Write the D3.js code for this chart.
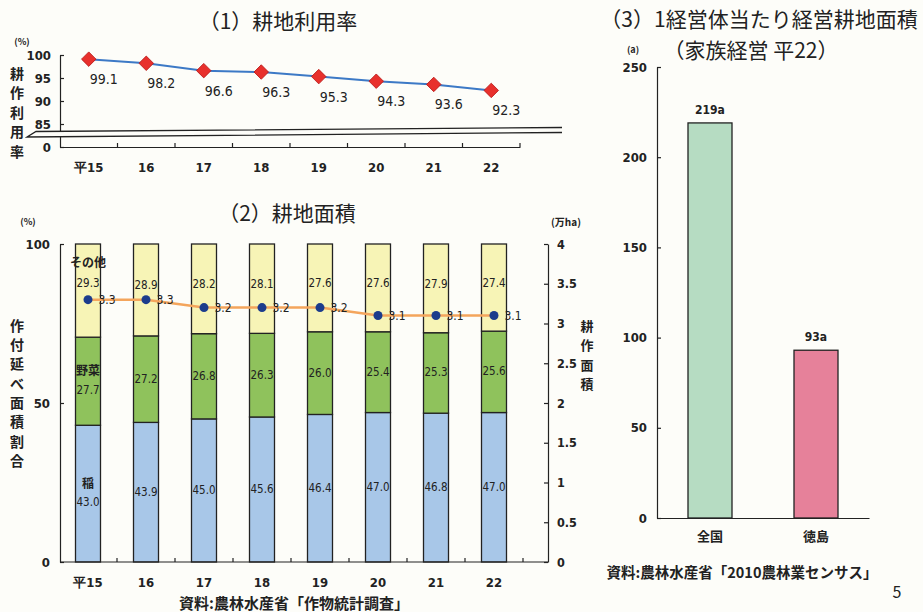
<!DOCTYPE html>
<html>
<head>
<meta charset="utf-8">
<script src="https://cdn.jsdelivr.net/npm/d3@7"></script>
<style>
body { margin: 0; background: #fdfdf9; }
svg { display: block; }
text { font-family: "Noto Sans CJK JP", sans-serif; fill: #222; }
.num, .tick text { font-family: "DejaVu Sans Condensed", "DejaVu Sans", sans-serif; }
</style>
</head>
<body>
<svg width="923" height="612"></svg>
<script>
// (1) 耕地利用率
let years = ['平15', '16', '17', '18', '19', '20', '21', '22'];
let utilRate = [99.1, 98.2, 96.6, 96.3, 95.3, 94.3, 93.6, 92.3];
let rateTicks = [0, 85, 90, 95, 100];

// (2) 耕地面積
let cropKeys = ['rice', 'veg', 'other'];
let cropNames = ['稲', '野菜', 'その他'];
let rice = [43.0, 43.9, 45.0, 45.6, 46.4, 47.0, 46.8, 47.0];
let veg = [27.7, 27.2, 26.8, 26.3, 26.0, 25.4, 25.3, 25.6];
let other = [29.3, 28.9, 28.2, 28.1, 27.6, 27.6, 27.9, 27.4];
let areaMan = [3.3, 3.3, 3.2, 3.2, 3.2, 3.1, 3.1, 3.1];
let shareTicks = [0, 50, 100];
let areaTicks = [0, 0.5, 1, 1.5, 2, 2.5, 3, 3.5, 4];

// (3) 1経営体当たり経営耕地面積
let regions = ['全国', '徳島'];
let farmArea = [219, 93];
let farmTicks = [0, 50, 100, 150, 200, 250];

let bg = '#fdfdf9';
let cropColors = { rice: '#a8c7e8', veg: '#8fc25c', other: '#f7f4b6' };
let regionColors = ['#b6dcc2', '#e6819a'];

let svg = d3.select('svg');

let vertText = (g, str, x, y0, step, size) => {
    str.split('').forEach((c, i) => {
        g.append('text')
         .attr('x', x)
         .attr('y', y0 + i * step)
         .attr('text-anchor', 'middle')
         .attr('dominant-baseline', 'middle')
         .style('font-size', size + 'px')
         .style('font-weight', 'bold')
         .text(c);
    });
};

let styleAxis = (g, size) => {
    g.selectAll('path, line').attr('stroke', '#222').attr('stroke-width', 1.2);
    g.selectAll('text').style('font-size', size + 'px').style('font-weight', 'bold').attr('fill', '#222');
};

// ---------- chart 1 ----------
let drawRate = () => {
    let g = svg.append('g');
    let x = d3.scaleBand().domain(years).range([60, 520]);
    let y = d3.scaleLinear().domain([0, 85, 100]).range([147, 124, 55]);
    let cx = d => x(d) + x.bandwidth() / 2;

    g.append('text')
     .attr('x', 278).attr('y', 29)
     .attr('text-anchor', 'middle')
     .style('font-size', '21px')
     .text('（1）耕地利用率');

    g.append('text').attr('x', 22).attr('y', 45).attr('text-anchor', 'middle')
     .style('font-size', '9px').style('font-weight', 'bold').text('(%)');
    vertText(g, '耕作利用率', 17, 75, 19.5, 14);

    let yAxis = g.append('g')
                 .attr('transform', 'translate(60,0)')
                 .call(d3.axisLeft(y).tickValues(rateTicks).tickSize(-4).tickSizeOuter(0).tickPadding(9));
    styleAxis(yAxis, 13);

    let xAxis = g.append('g')
                 .attr('transform', 'translate(0,147)')
                 .call(d3.axisBottom(x).tickSize(0).tickPadding(16));
    styleAxis(xAxis, 13);
    xAxis.selectAll('line.bound')
         .data(years)
         .enter()
         .append('line')
         .attr('class', 'bound')
         .attr('x1', d => x(d) + x.bandwidth()).attr('x2', d => x(d) + x.bandwidth())
         .attr('y1', 0).attr('y2', -4)
         .attr('stroke', '#222').attr('stroke-width', 1.2);

    // axis break
    g.append('path')
     .attr('d', 'M562,127.5 L36,131.5 L27,137 L562,132.5 Z')
     .attr('fill', bg);
    g.append('path')
     .attr('d', 'M562,127.5 L36,131.5 L27,137 L562,132.5')
     .attr('fill', 'none').attr('stroke', '#222').attr('stroke-width', 1.3);

    g.append('path')
     .datum(utilRate)
     .attr('fill', 'none')
     .attr('stroke', '#3c79c6')
     .attr('stroke-width', 2)
     .attr('d', d3.line().x((d, i) => cx(years[i])).y(d => y(d)));

    g.selectAll('.dia')
     .data(utilRate)
     .enter()
     .append('path')
     .attr('class', 'dia')
     .attr('d', d3.symbol().type(d3.symbolSquare).size(105))
     .attr('transform', (d, i) => `translate(${cx(years[i])},${y(d)}) rotate(45)`)
     .attr('fill', '#e8302c')
     .attr('stroke', '#b81818')
     .attr('stroke-width', 0.8);

    g.selectAll('.rlab')
     .data(utilRate)
     .enter()
     .append('text')
     .attr('class', 'num rlab')
     .attr('x', (d, i) => cx(years[i]) + 15)
     .attr('y', d => y(d) + 25)
     .attr('text-anchor', 'middle')
     .style('font-size', '14px')
     .text(d => d.toFixed(1));
};

// ---------- chart 2 ----------
let drawArea = () => {
    let g = svg.append('g');
    let x = d3.scaleBand().domain(years).range([59, 523]);
    let y = d3.scaleLinear().domain([0, 100]).range([562, 244]);
    let yR = d3.scaleLinear().domain([0, 4]).range([562, 244]);
    let cx = d => x(d) + x.bandwidth() / 2;
    let barW = 25;

    g.append('text')
     .attr('x', 287).attr('y', 221)
     .attr('text-anchor', 'middle')
     .style('font-size', '21px')
     .text('（2）耕地面積');

    g.append('text').attr('x', 28).attr('y', 225).attr('text-anchor', 'middle')
     .style('font-size', '9px').style('font-weight', 'bold').text('(%)');
    g.append('text').attr('x', 566).attr('y', 226).attr('text-anchor', 'middle')
     .style('font-size', '10px').style('font-weight', 'bold').text('(万ha)');
    vertText(g, '作付延べ面積割合', 17, 327, 19.3, 14);
    vertText(g, '耕作面積', 587, 327, 19.5, 13);

    let table = years.map((yr, i) => ({ year: yr, rice: rice[i], veg: veg[i], other: other[i] }));
    let series = d3.stack().keys(cropKeys)(table);

    let layer = g.selectAll('.layer')
                 .data(series)
                 .enter()
                 .append('g')
                 .attr('class', 'layer')
                 .attr('fill', s => cropColors[s.key]);

    layer.selectAll('rect')
         .data(s => s)
         .enter()
         .append('rect')
         .attr('x', d => cx(d.data.year) - barW / 2)
         .attr('y', d => y(d[1]))
         .attr('width', barW)
         .attr('height', d => y(d[0]) - y(d[1]))
         .attr('stroke', '#222')
         .attr('stroke-width', 1.3);

    // segment labels
    series.forEach((s, k) => {
        s.forEach((d, i) => {
            let mid = (y(d[0]) + y(d[1])) / 2;
            let vy = mid;
            if (i === 0) {
                let ny = s.key === 'other' ? mid - 27 : mid - 9;
                vy = s.key === 'other' ? mid - 7 : mid + 9;
                g.append('text')
                 .attr('x', cx(d.data.year))
                 .attr('y', ny)
                 .attr('text-anchor', 'middle')
                 .attr('dominant-baseline', 'middle')
                 .style('font-size', '12px')
                 .style('font-weight', 'bold')
                 .attr('fill', '#2a3340')
                 .text(cropNames[k]);
            } else if (s.key === 'other') {
                vy = mid - 4;
            }
            g.append('text')
             .attr('class', 'num')
             .attr('x', cx(d.data.year))
             .attr('y', vy)
             .attr('text-anchor', 'middle')
             .attr('dominant-baseline', 'middle')
             .style('font-size', '11.5px')
             .attr('fill', '#2a3340')
             .text(d.data[s.key].toFixed(1));
        });
    });

    let yAxis = g.append('g')
                 .attr('transform', 'translate(60,0)')
                 .call(d3.axisLeft(y).tickValues(shareTicks).tickSize(-4).tickSizeOuter(0).tickPadding(10));
    styleAxis(yAxis, 13);

    let rAxis = g.append('g')
                 .attr('transform', 'translate(548,0)')
                 .call(d3.axisRight(yR).tickValues(areaTicks).tickFormat(d => d).tickSize(-4).tickSizeOuter(0).tickPadding(9));
    styleAxis(rAxis, 12.5);

    let xAxis = g.append('g')
                 .attr('transform', 'translate(0,562)')
                 .call(d3.axisBottom(x).tickSize(0).tickPadding(16));
    styleAxis(xAxis, 13);
    xAxis.select('.domain').attr('d', 'M60,0H548');
    xAxis.selectAll('line.bound')
         .data(years)
         .enter()
         .append('line')
         .attr('class', 'bound')
         .attr('x1', d => x(d) + x.bandwidth()).attr('x2', d => x(d) + x.bandwidth())
         .attr('y1', 0).attr('y2', -4)
         .attr('stroke', '#222').attr('stroke-width', 1.2);

    // 耕作面積 line
    g.append('path')
     .datum(areaMan)
     .attr('fill', 'none')
     .attr('stroke', '#f4a55c')
     .attr('stroke-width', 2.5)
     .attr('d', d3.line().x((d, i) => cx(years[i])).y(d => yR(d)));

    g.selectAll('.dot')
     .data(areaMan)
     .enter()
     .append('circle')
     .attr('class', 'dot')
     .attr('cx', (d, i) => cx(years[i]))
     .attr('cy', d => yR(d))
     .attr('r', 4.5)
     .attr('fill', '#1c3c8c');

    g.selectAll('.alab')
     .data(areaMan)
     .enter()
     .append('text')
     .attr('class', 'num alab')
     .attr('x', (d, i) => cx(years[i]) + 19)
     .attr('y', d => yR(d) + 1)
     .attr('text-anchor', 'middle')
     .attr('dominant-baseline', 'middle')
     .style('font-size', '12px')
     .attr('fill', '#2a3340')
     .text(d => d.toFixed(1));

    g.append('text')
     .attr('x', 294).attr('y', 609)
     .attr('text-anchor', 'middle')
     .style('font-size', '15px')
     .style('font-weight', 'bold')
     .text('資料:農林水産省「作物統計調査」');
};

// ---------- chart 3 ----------
let drawFarm = () => {
    let g = svg.append('g');
    let x = d3.scaleBand().domain(regions).range([657, 869]);
    let y = d3.scaleLinear().domain([0, 250]).range([518, 67]);
    let barW = 44;

    g.append('text')
     .attr('x', 759).attr('y', 27)
     .attr('text-anchor', 'middle')
     .style('font-size', '21px')
     .text('（3）1経営体当たり経営耕地面積');
    g.append('text')
     .attr('x', 751).attr('y', 58)
     .attr('text-anchor', 'middle')
     .style('font-size', '21px')
     .text('（家族経営  平22）');
    g.append('text').attr('x', 633).attr('y', 53).attr('text-anchor', 'middle')
     .style('font-size', '9px').style('font-weight', 'bold').text('(a)');

    g.selectAll('.fbar')
     .data(farmArea)
     .enter()
     .append('rect')
     .attr('class', 'fbar')
     .attr('x', (d, i) => x(regions[i]) + x.bandwidth() / 2 - barW / 2)
     .attr('y', d => y(d))
     .attr('width', barW)
     .attr('height', d => y(0) - y(d))
     .attr('fill', (d, i) => regionColors[i])
     .attr('stroke', '#222')
     .attr('stroke-width', 1.3);

    g.selectAll('.flab')
     .data(farmArea)
     .enter()
     .append('text')
     .attr('class', 'num flab')
     .attr('x', (d, i) => x(regions[i]) + x.bandwidth() / 2)
     .attr('y', d => y(d) - 9)
     .attr('text-anchor', 'middle')
     .style('font-size', '12px')
     .style('font-weight', 'bold')
     .text(d => d + 'a');

    let yAxis = g.append('g')
                 .attr('transform', 'translate(657,0)')
                 .call(d3.axisLeft(y).tickValues(farmTicks).tickSize(-4).tickSizeOuter(0).tickPadding(10));
    styleAxis(yAxis, 13);

    let xAxis = g.append('g')
                 .attr('transform', 'translate(0,518)')
                 .call(d3.axisBottom(x).tickSize(0).tickPadding(14));
    styleAxis(xAxis, 13);
    xAxis.selectAll('text').style('font-family', '"Noto Sans CJK JP", sans-serif');

    g.append('text')
     .attr('x', 742).attr('y', 578)
     .attr('text-anchor', 'middle')
     .style('font-size', '14.5px')
     .style('font-weight', 'bold')
     .text('資料:農林水産省「2010農林業センサス」');

    g.append('text')
     .attr('x', 897).attr('y', 598)
     .attr('text-anchor', 'middle')
     .style('font-size', '16px')
     .text('5');
};

drawRate();
drawArea();
drawFarm();
</script>
</body>
</html>
